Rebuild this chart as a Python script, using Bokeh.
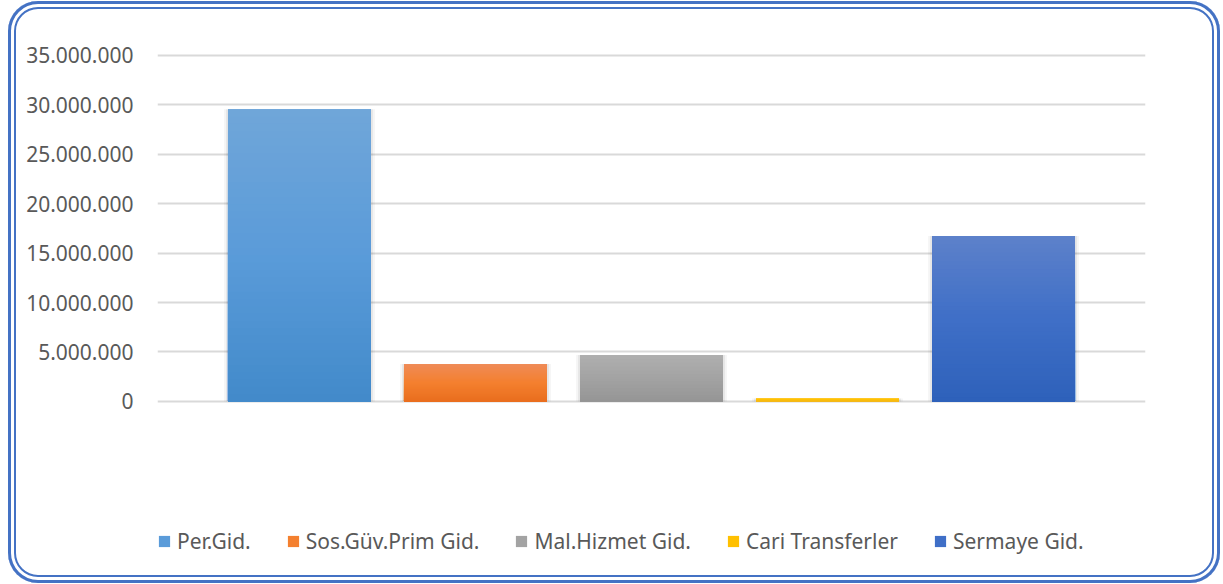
from bokeh.plotting import figure
from bokeh.models import FactorRange, Range1d, FixedTicker, Legend, LegendItem, ColumnDataSource
from bokeh.embed import file_html
from bokeh.resources import INLINE

# ---------------- data ----------------
CATEGORIES = ["Per.Gid.", "Sos.Güv.Prim Gid.", "Mal.Hizmet Gid.", "Cari Transferler", "Sermaye Gid."]
VALUES = [29_550_000, 3_790_000, 4_700_000, 300_000, 16_720_000]
Y_TICKS = [0, 5_000_000, 10_000_000, 15_000_000, 20_000_000, 25_000_000, 30_000_000, 35_000_000]
Y_TICK_LABELS = ["0", "5.000.000", "10.000.000", "15.000.000", "20.000.000",
                 "25.000.000", "30.000.000", "35.000.000"]

# ---------------- styles ----------------
COLOR_TOP = ["#70A6D9", "#EF8B58", "#AFAFAF", "#FFC72E", "#5D81CA"]
COLOR_MID = ["#5A9BD9", "#F4802F", "#A3A3A3", "#FFC000", "#3F6FC7"]
COLOR_BOT = ["#428ACA", "#E96E1E", "#959595", "#F3B61F", "#2E61BA"]
BAR_W = 0.8125
N_STEPS = 40
Y_START, Y_END = -16_600_000, 36_000_000
TEXT_COLOR = "#595959"
FONT = "Noto Sans"


def hex2rgb(h):
    h = h.lstrip("#")
    return tuple(int(h[i:i + 2], 16) for i in (0, 2, 4))


def mix(a, b, t):
    ra, rb = hex2rgb(a), hex2rgb(b)
    return "#%02X%02X%02X" % tuple(round(x + (y - x) * t) for x, y in zip(ra, rb))


def grad(ci, t):
    if t < 0.5:
        return mix(COLOR_TOP[ci], COLOR_MID[ci], t / 0.5)
    return mix(COLOR_MID[ci], COLOR_BOT[ci], (t - 0.5) / 0.5)


p = figure(
    width=1212, height=582,
    x_range=FactorRange(factors=CATEGORIES, range_padding=0.1227),
    y_range=Range1d(Y_START, Y_END),
    output_backend="svg", toolbar_location=None,
    min_border_left=149, min_border_right=75, min_border_top=44, min_border_bottom=18,
    border_fill_color=None, background_fill_color=None, outline_line_color=None,
    styles={
        "margin-left": "8px",
        "margin-top": "1px",
        "border-radius": "30px",
        "box-shadow": "inset 0 0 0 3px #4472C4, inset 0 0 0 6px #FFFFFF, inset 0 0 0 8px #4472C4",
    },
)

# shadows
p.vbar(x=CATEGORIES, top=VALUES, width=BAR_W + 0.045, fill_color="black", fill_alpha=0.04, line_color=None)
p.vbar(x=CATEGORIES, top=VALUES, width=BAR_W + 0.022, fill_color="black", fill_alpha=0.06, line_color=None)

# legend renderer (fully covered by gradient layers)
legend_src = ColumnDataSource(dict(x=CATEGORIES, top=VALUES, color=COLOR_MID))
r_leg = p.vbar(x="x", top="top", width=BAR_W, fill_color="color", line_color=None, source=legend_src)

# gradient bars built as stacked layers
xs, tops, cols = [], [], []
for ci, (cat, v) in enumerate(zip(CATEGORIES, VALUES)):
    for i in range(N_STEPS):
        xs.append(cat)
        tops.append(v * (1 - i / N_STEPS))
        cols.append(grad(ci, (i + 0.5) / N_STEPS))
src = ColumnDataSource(dict(x=xs, top=tops, color=cols))
p.vbar(x="x", top="top", width=BAR_W, fill_color="color", line_color=None, source=src)

# axes / grid
p.xaxis.visible = False
p.xgrid.grid_line_color = None
p.yaxis.ticker = FixedTicker(ticks=Y_TICKS)
p.yaxis.major_label_overrides = {t: l for t, l in zip(Y_TICKS, Y_TICK_LABELS)}
p.yaxis.axis_line_color = None
p.yaxis.major_tick_line_color = None
p.yaxis.minor_tick_line_color = None
p.yaxis.major_tick_out = 0
p.yaxis.major_tick_in = 0
p.yaxis.major_label_standoff = 24
p.yaxis.major_label_text_font = FONT
p.yaxis.major_label_text_font_size = "21px"
p.yaxis.major_label_text_color = TEXT_COLOR
p.ygrid.grid_line_color = "#D9D9D9"
p.ygrid.grid_line_width = 2

legend = Legend(
    items=[LegendItem(label=c, renderers=[r_leg], index=i) for i, c in enumerate(CATEGORIES)],
    orientation="horizontal", location=(0, 10),
    glyph_width=14, glyph_height=14, label_standoff=6, spacing=35,
    padding=0, margin=0, border_line_color=None, background_fill_alpha=0,
    label_text_font=FONT, label_text_font_size="21px", label_text_color=TEXT_COLOR,
)
p.add_layout(legend, "center")

open("out.html", "w").write(file_html(p, INLINE))
